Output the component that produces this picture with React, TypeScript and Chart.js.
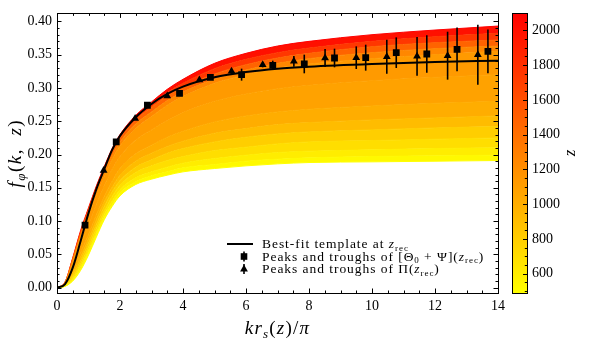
import React, { useEffect, useRef } from 'react';
import { Chart, registerables } from 'chart.js';
Chart.register(...registerables);

// ---------------- DATA ----------------
const kGrid = [0, 0.25, 0.5, 0.75, 1, 1.25, 1.5, 1.75, 2, 2.5, 3, 3.5, 4, 5, 6, 7, 8, 10, 12, 14];
const zLevels = [490, 560, 650, 750, 850, 970, 1050, 1100, 1150, 1350, 1600, 1900, 2100];
const f_z490 = [0, .002, .010, .026, .049, .076, .102, .122, .138, .155, .163, .169, .174, .179, .183, .186, .188, .189, .190, .191];
const f_z560 = [0, .002, .011, .028, .052, .079, .105, .125, .142, .159, .168, .174, .180, .185, .190, .193, .195, .197, .198, .199];
const f_z650 = [0, .003, .013, .032, .056, .083, .110, .130, .147, .165, .174, .181, .187, .194, .199, .203, .205, .207, .209, .210];
const f_z750 = [0, .003, .016, .036, .061, .089, .115, .137, .154, .173, .183, .191, .197, .206, .211, .216, .219, .221, .223, .225];
const f_z850 = [0, .004, .019, .041, .067, .095, .122, .144, .161, .181, .192, .202, .209, .219, .226, .231, .234, .237, .240, .242];
const f_z970 = [0, .004, .022, .046, .073, .102, .129, .151, .169, .190, .202, .212, .220, .232, .239, .245, .248, .252, .255, .258];
const f_z1050 = [0, .005, .025, .053, .080, .110, .137, .160, .179, .201, .214, .226, .235, .249, .258, .264, .268, .273, .277, .280];
const f_z1100 = [0, .006, .032, .064, .094, .125, .153, .178, .197, .222, .237, .251, .263, .280, .291, .299, .304, .311, .316, .320];
const f_z1150 = [0, .007, .038, .075, .107, .139, .167, .193, .213, .239, .257, .274, .287, .307, .320, .330, .336, .344, .350, .355];
const f_z1350 = [0, .007, .041, .079, .112, .145, .173, .199, .219, .246, .264, .281, .294, .313, .327, .337, .344, .353, .359, .363];
const f_z1600 = [0, .007, .043, .082, .116, .149, .178, .204, .224, .252, .271, .288, .301, .321, .335, .345, .352, .362, .368, .372];
const f_z1900 = [0, .008, .044, .084, .118, .151, .180, .206, .227, .256, .275, .293, .307, .329, .343, .353, .360, .370, .377, .382];
const f_z2100 = [0, .008, .045, .086, .120, .153, .182, .209, .230, .259, .279, .298, .313, .337, .352, .363, .370, .380, .387, .393];
const bandCurves = [f_z490, f_z560, f_z650, f_z750, f_z850, f_z970, f_z1050, f_z1100, f_z1150, f_z1350, f_z1600, f_z1900, f_z2100];

const bestK = [0, 0.25, 0.5, 0.75, 1, 1.25, 1.5, 1.75, 2, 2.5, 3, 3.5, 4, 5, 6, 7, 8, 10, 12, 14];
const bestF = [0, .005, .030, .070, .112, .148, .178, .207, .228, .256, .276, .291, .302, .316, .324, .329, .332, .336, .339, .341];

const kSq = [0.89, 1.88, 2.87, 3.89, 4.87, 5.86, 6.85, 7.85, 8.81, 9.80, 10.77, 11.74, 12.70, 13.68];
const fSq = [0.094, 0.219, 0.274, 0.292, 0.316, 0.320, 0.334, 0.336, 0.345, 0.3455, 0.353, 0.351, 0.358, 0.355];
const eSq = [0.002, 0.002, 0.002, 0.002, 0.003, 0.009, 0.007, 0.014, 0.014, 0.0195, 0.023, 0.028, 0.033, 0.033];
const kTri = [1.48, 2.48, 3.50, 4.52, 5.54, 6.53, 7.52, 8.51, 9.50, 10.47, 11.43, 12.40, 13.36];
const fTri = [0.176, 0.254, 0.288, 0.312, 0.325, 0.335, 0.340, 0.345, 0.3455, 0.347, 0.3475, 0.3485, 0.350];
const eTri = [0.002, 0.002, 0.002, 0.003, 0.004, 0.004, 0.008, 0.0135, 0.017, 0.0255, 0.029, 0.036, 0.045];

const xTickVals = [0, 2, 4, 6, 8, 10, 12, 14];
const yTickVals = [0, 0.05, 0.1, 0.15, 0.2, 0.25, 0.3, 0.35, 0.4];
const cbTickVals = [600, 800, 1000, 1200, 1400, 1600, 1800, 2000];
const cbMin = 489;
const cbMax = 2100;

// ---------------- STYLE ----------------
const FONT = '"Liberation Serif", "Times New Roman", serif';
const cmap = (z: number) => {
  const t = Math.min(1, Math.max(0, (z - cbMin) / (cbMax - cbMin)));
  return `rgb(255,${Math.round(255 * (1 - t))},0)`;
};

type Seg = { t: string; it?: boolean; sub?: boolean };
function drawRich(ctx: any, segs: Seg[], x: number, y: number, size: number, align: 'left' | 'center', spacing = 0) {
  const fontOf = (s: Seg) => `${s.it ? 'italic ' : ''}${s.sub ? Math.round(size * 0.7) : size}px ${FONT}`;
  ctx.letterSpacing = `${spacing}px`;
  const widths = segs.map((s) => { ctx.font = fontOf(s); return ctx.measureText(s.t).width; });
  const total = widths.reduce((a, b) => a + b, 0);
  let cx = align === 'center' ? x - total / 2 : x;
  ctx.textAlign = 'left';
  ctx.textBaseline = 'alphabetic';
  segs.forEach((s, i) => {
    ctx.font = fontOf(s);
    ctx.fillText(s.t, cx, s.sub ? y + size * 0.22 : y);
    cx += widths[i];
  });
  ctx.letterSpacing = '0px';
}

const decor = {
  id: 'decor',
  afterDatasetsDraw(chart: any) {
    const { ctx, scales } = chart;
    const xs = scales.x, ys = scales.y;
    ctx.save();
    ctx.strokeStyle = '#000';
    ctx.lineWidth = 1.6;
    const bars = (ks: number[], fs: number[], es: number[]) => {
      ks.forEach((k, i) => {
        const px = xs.getPixelForValue(k);
        ctx.beginPath();
        ctx.moveTo(px, ys.getPixelForValue(fs[i] - es[i]));
        ctx.lineTo(px, ys.getPixelForValue(fs[i] + es[i]));
        ctx.stroke();
      });
    };
    bars(kSq, fSq, eSq);
    bars(kTri, fTri, eTri);
    ctx.restore();
  },
  afterDraw(chart: any) {
    const { ctx, chartArea: a, scales } = chart;
    const xs = scales.x, ys = scales.y;
    ctx.save();
    ctx.strokeStyle = '#000';
    ctx.fillStyle = '#000';
    ctx.lineWidth = 1;
    // frame
    ctx.strokeRect(Math.round(a.left) + 0.5, Math.round(a.top) + 0.5, Math.round(a.right - a.left), Math.round(a.bottom - a.top));
    // inward ticks
    const tick = (x1: number, y1: number, x2: number, y2: number) => {
      ctx.beginPath(); ctx.moveTo(x1, y1); ctx.lineTo(x2, y2); ctx.stroke();
    };
    const maj = 4.5, mnr = 2.5;
    for (let v = 0; v <= 14.001; v += 0.5) {
      const isMaj = Math.abs(v / 2 - Math.round(v / 2)) < 1e-6;
      const len = isMaj ? maj : mnr;
      const px = Math.round(xs.getPixelForValue(v)) + 0.5;
      tick(px, a.bottom, px, a.bottom - len);
      tick(px, a.top, px, a.top + len);
    }
    for (let v = 0; v <= 0.41; v += 0.01) {
      const isMaj = Math.abs(v / 0.05 - Math.round(v / 0.05)) < 1e-6;
      const len = isMaj ? maj : mnr;
      const py = Math.round(ys.getPixelForValue(v)) + 0.5;
      tick(a.left, py, a.left + len, py);
      tick(a.right, py, a.right - len, py);
    }

    // axis titles
    ctx.fillStyle = '#000';
    drawRich(ctx, [{ t: 'kr', it: true }, { t: 's', it: true, sub: true }, { t: '(' }, { t: 'z', it: true }, { t: ')/' }, { t: 'π', it: true }], (a.left + a.right) / 2, 334, 19, 'center', 1.2);
    ctx.save();
    ctx.translate(21, (a.top + a.bottom) / 2);
    ctx.rotate(-Math.PI / 2);
    drawRich(ctx, [{ t: 'f', it: true }, { t: 'φ', it: true, sub: true }, { t: '(' }, { t: 'k', it: true }, { t: ',  ' }, { t: 'z', it: true }, { t: ')' }], 0, 0, 19, 'center', 1.5);
    ctx.restore();

    // legend
    const lx0 = 227, lx1 = 253, mx = 244, tx = 262;
    const rows = [244, 256.5, 269];
    ctx.lineWidth = 2;
    tick(lx0, rows[0], lx1, rows[0]);
    ctx.lineWidth = 1.6;
    tick(mx, rows[1] - 5, mx, rows[1] + 5);
    tick(mx, rows[2] - 5, mx, rows[2] + 5);
    ctx.fillRect(mx - 3.3, rows[1] - 3.3, 6.6, 6.6);
    ctx.beginPath();
    ctx.moveTo(mx, rows[2] - 4.5);
    ctx.lineTo(mx + 3.9, rows[2] + 2.5);
    ctx.lineTo(mx - 3.9, rows[2] + 2.5);
    ctx.closePath();
    ctx.fill();
    const ls = 13.5, sp = 0.95;
    drawRich(ctx, [{ t: 'Best-fit template at ' }, { t: 'z', it: true }, { t: 'rec', sub: true }], tx, rows[0] + 4, ls, 'left', sp);
    drawRich(ctx, [{ t: 'Peaks and troughs of [Θ' }, { t: '0', sub: true }, { t: ' + Ψ](' }, { t: 'z', it: true }, { t: 'rec', sub: true }, { t: ')' }], tx, rows[1] + 4, ls, 'left', sp);
    drawRich(ctx, [{ t: 'Peaks and troughs of Π(' }, { t: 'z', it: true }, { t: 'rec', sub: true }, { t: ')' }], tx, rows[2] + 4, ls, 'left', sp);

    // colorbar
    const cbL = 512, cbR = 527, cbT = Math.round(a.top), cbB = Math.round(a.bottom);
    const g = ctx.createLinearGradient(0, cbB, 0, cbT);
    g.addColorStop(0, cmap(cbMin));
    g.addColorStop(1, cmap(cbMax));
    ctx.fillStyle = g;
    ctx.fillRect(cbL, cbT, cbR - cbL, cbB - cbT);
    ctx.strokeStyle = '#000';
    ctx.lineWidth = 1;
    ctx.strokeRect(cbL + 0.5, cbT + 0.5, cbR - cbL, cbB - cbT);
    const cbY = (z: number) => cbB - ((z - cbMin) / (cbMax - cbMin)) * (cbB - cbT);
    for (let z = 500; z <= 2100; z += 50) {
      const isMaj = z % 200 === 0;
      const py = Math.round(cbY(z)) + 0.5;
      tick(cbR, py, cbR - (isMaj ? 4 : 2.2), py);
    }
    ctx.fillStyle = '#000';
    ctx.font = `14px ${FONT}`;
    ctx.textAlign = 'left';
    ctx.textBaseline = 'middle';
    cbTickVals.forEach((z) => ctx.fillText(String(z), 532, cbY(z)));
    ctx.save();
    ctx.translate(575, (cbT + cbB) / 2);
    ctx.rotate(-Math.PI / 2);
    drawRich(ctx, [{ t: 'z', it: true }], 0, 0, 17, 'center');
    ctx.restore();
    ctx.restore();
  },
};

export default function App() {
  const ref = useRef<HTMLCanvasElement>(null);
  useEffect(() => {
    const canvas = ref.current!;
    const bandDatasets = bandCurves.map((vals, i) => {
      const zMid = i === 0 ? zLevels[0] : (zLevels[i - 1] + zLevels[i]) / 2;
      return {
        type: 'line',
        data: kGrid.map((k, j) => ({ x: k, y: vals[j] })),
        borderColor: i === bandCurves.length - 1 ? cmap(zLevels[i]) : cmap(zMid),
        borderWidth: 1,
        backgroundColor: cmap(zMid),
        fill: i === 0 ? false : '-1',
        pointRadius: 0,
        cubicInterpolationMode: 'monotone',
        order: 10,
      };
    });
    const chart = new Chart(canvas, {
      type: 'line',
      data: {
        datasets: [
          ...bandDatasets,
          {
            type: 'line',
            data: bestK.map((k, j) => ({ x: k, y: bestF[j] })),
            borderColor: '#000',
            borderWidth: 2,
            pointRadius: 0,
            fill: false,
            cubicInterpolationMode: 'monotone',
            order: 2,
          },
          {
            type: 'line',
            data: kSq.map((k, j) => ({ x: k, y: fSq[j] })),
            showLine: false,
            pointStyle: 'rect',
            pointRadius: 4.8,
            pointBackgroundColor: '#000',
            pointBorderColor: '#000',
            pointBorderWidth: 0,
            fill: false,
            order: 1,
          },
          {
            type: 'line',
            data: kTri.map((k, j) => ({ x: k, y: fTri[j] })),
            showLine: false,
            pointStyle: 'triangle',
            pointRadius: 4.5,
            pointBackgroundColor: '#000',
            pointBorderColor: '#000',
            pointBorderWidth: 0,
            fill: false,
            order: 1,
          },
        ] as any,
      },
      options: {
        animation: false,
        responsive: true,
        maintainAspectRatio: false,
        events: [],
        layout: { padding: { left: 0, top: 7, right: 91, bottom: 0 } },
        plugins: { legend: { display: false }, tooltip: { enabled: false } },
        scales: {
          x: {
            type: 'linear',
            min: 0,
            max: 14,
            grid: { display: false, drawTicks: false },
            border: { display: false },
            afterBuildTicks: (s: any) => { s.ticks = xTickVals.map((v) => ({ value: v })); },
            afterFit: (s: any) => { s.height = 47; },
            ticks: { color: '#000', font: { family: FONT, size: 14 }, padding: 5, maxRotation: 0, callback: (v: any) => String(v) },
          },
          y: {
            type: 'linear',
            min: -0.008,
            max: 0.412,
            grid: { display: false, drawTicks: false },
            border: { display: false },
            afterBuildTicks: (s: any) => { s.ticks = yTickVals.map((v) => ({ value: v })); },
            afterFit: (s: any) => { s.width = 57; },
            ticks: { color: '#000', font: { family: FONT, size: 14 }, padding: 5, callback: (v: any) => Number(v).toFixed(2) },
          },
        },
      },
      plugins: [decor],
    } as any);
    return () => chart.destroy();
  }, []);
  return (
    <div style={{ position: 'absolute', left: 0, top: 0, width: 589, height: 340 }}>
      <canvas ref={ref} />
    </div>
  );
}
